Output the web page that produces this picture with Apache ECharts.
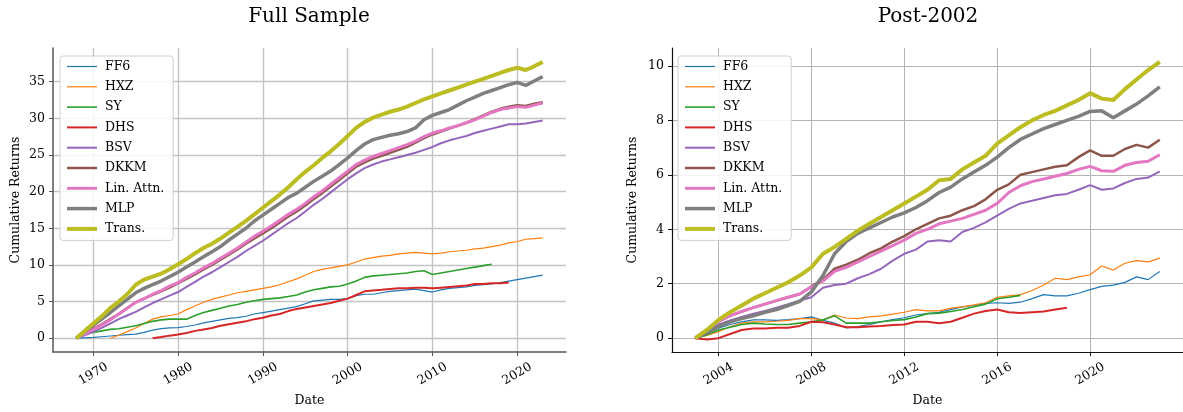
<!DOCTYPE html>
<html><head><meta charset="utf-8">
<script src="https://cdn.jsdelivr.net/npm/echarts@6/dist/echarts.min.js"></script>
<style>html,body{margin:0;padding:0;background:#fff}#c{width:1183px;height:412px}</style>
</head><body><div id="c"></div>
<script>
const seriesNames = ['FF6','HXZ','SY','DHS','BSV','DKKM','Lin. Attn.','MLP','Trans.'];
const seriesColors = ['#1f77b4','#ff7f0e','#2ca02c','#d62728','#9467bd','#8c564b','#e377c2','#7f7f7f','#bcbd22'];
const seriesWidths = [1.2,1.2,1.6,2,2,2.5,3,3.5,4];
const titles = ['Full Sample','Post-2002'];
const xTicksFull = [1970,1980,1990,2000,2010,2020];
const yTicksFull = [0,5,10,15,20,25,30,35];
const xTicksPost = [2004,2008,2012,2016,2020];
const yTicksPost = [0,2,4,6,8,10];

// Full sample: yearly readings 1968..2023
const yearsFull = [1968,1969,1970,1971,1972,1973,1974,1975,1976,1977,
  1978,1979,1980,1981,1982,1983,1984,1985,1986,1987,
  1988,1989,1990,1991,1992,1993,1994,1995,1996,1997,
  1998,1999,2000,2001,2002,2003,2004,2005,2006,2007,
  2008,2009,2010,2011,2012,2013,2014,2015,2016,2017,
  2018,2019,2020,2021,2022,2023];
const ff6Full = [0,0.05,0.1,0.2,0.3,0.4,0.5,0.55,0.8,1.1,
  1.3,1.4,1.45,1.6,1.8,2.1,2.3,2.5,2.7,2.8,
  3.0,3.3,3.5,3.7,3.9,4.1,4.3,4.7,5.1,5.2,
  5.3,5.3,5.4,5.8,6.0,6.0,6.2,6.4,6.5,6.6,
  6.7,6.5,6.3,6.6,6.8,6.9,7.0,7.2,7.3,7.4,
  7.6,7.8,8.0,8.2,8.4,8.6];
const hxzFull = [null,null,null,null,0,0.4,0.9,1.4,2.0,2.6,
  2.9,3.1,3.3,3.9,4.4,4.9,5.3,5.6,5.9,6.2,
  6.4,6.6,6.8,7.0,7.3,7.7,8.1,8.6,9.1,9.4,
  9.6,9.8,10.0,10.4,10.8,11.0,11.2,11.3,11.5,11.6,
  11.7,11.6,11.5,11.6,11.8,11.9,12.0,12.2,12.3,12.5,
  12.7,13.0,13.2,13.5,13.6,13.7];
const syFull = [0,0.5,0.8,1.0,1.2,1.3,1.5,1.7,2.0,2.3,
  2.5,2.6,2.6,2.6,3.1,3.5,3.8,4.1,4.4,4.6,
  4.9,5.1,5.3,5.4,5.5,5.7,5.9,6.3,6.6,6.8,
  7.0,7.1,7.4,7.8,8.3,8.5,8.6,8.7,8.8,8.9,
  9.1,9.2,8.7,8.9,9.1,9.3,9.5,9.7,9.9,10.1];
const dhsFull = [null,null,null,null,null,null,null,null,null,0,
  0.15,0.35,0.5,0.7,1.0,1.2,1.4,1.7,1.9,2.1,
  2.3,2.6,2.8,3.1,3.3,3.7,4.0,4.2,4.4,4.6,
  4.8,5.1,5.4,5.9,6.4,6.5,6.6,6.7,6.8,6.8,
  6.9,6.9,6.8,6.9,7.0,7.1,7.2,7.4,7.4,7.5,
  7.5,7.6];
const bsvFull = [0,0.4,0.9,1.4,2.0,2.6,3.1,3.6,4.2,4.8,
  5.3,5.8,6.3,7.0,7.7,8.4,9.0,9.7,10.4,11.1,
  11.9,12.6,13.3,14.1,14.9,15.7,16.4,17.3,18.2,19.0,
  19.9,20.8,21.7,22.5,23.2,23.7,24.1,24.4,24.7,25.0,
  25.3,25.7,26.1,26.6,27.0,27.3,27.6,28.0,28.3,28.6,
  28.9,29.2,29.2,29.3,29.5,29.7];
const dkkmFull = [0,0.7,1.3,1.9,2.6,3.3,4.1,4.9,5.4,5.9,
  6.4,6.9,7.5,8.1,8.7,9.4,10.0,10.7,11.4,12.1,
  12.9,13.6,14.3,15.0,15.8,16.6,17.3,18.1,19.0,19.8,
  20.7,21.6,22.5,23.4,24.0,24.5,24.9,25.3,25.7,26.1,
  26.7,27.3,27.8,28.2,28.6,29.0,29.4,29.9,30.4,30.9,
  31.3,31.6,31.8,31.7,32.0,32.2];
const linFull = [0,0.6,1.2,1.8,2.5,3.3,4.1,4.9,5.4,6.0,
  6.5,7.1,7.6,8.3,8.9,9.6,10.2,10.9,11.6,12.3,
  13.1,13.9,14.6,15.3,16.1,16.9,17.6,18.4,19.3,20.1,
  21.0,21.9,22.8,23.7,24.3,24.8,25.2,25.6,26.0,26.4,
  26.9,27.5,28.0,28.3,28.7,29.0,29.4,29.8,30.3,30.8,
  31.2,31.4,31.6,31.5,31.8,32.1];
const mlpFull = [0,0.9,1.8,2.6,3.5,4.4,5.3,6.2,6.8,7.3,
  7.8,8.4,9.0,9.7,10.4,11.1,11.8,12.5,13.4,14.2,
  15.0,16.0,16.8,17.6,18.4,19.2,19.8,20.6,21.4,22.1,
  22.8,23.7,24.6,25.6,26.5,27.1,27.4,27.7,27.9,28.2,
  28.7,29.8,30.4,30.8,31.2,31.8,32.4,32.9,33.4,33.8,
  34.2,34.6,34.9,34.5,35.1,35.7];
const transFull = [0,1.0,2.0,3.0,4.1,5.0,6.0,7.3,8.0,8.4,
  8.8,9.4,10.1,10.8,11.6,12.3,12.9,13.6,14.4,15.2,
  16.0,16.9,17.8,18.7,19.6,20.6,21.7,22.7,23.6,24.6,
  25.5,26.5,27.6,28.7,29.5,30.1,30.5,30.9,31.2,31.6,
  32.1,32.6,33.0,33.4,33.8,34.2,34.6,35.0,35.4,35.8,
  36.2,36.6,36.9,36.6,37.1,37.7];

// Post-2002: half-yearly readings 2003..2023
const yearsPost = [2003,2003.5,2004,2004.5,2005,2005.5,2006,2006.5,2007,2007.5,
  2008,2008.5,2009,2009.5,2010,2010.5,2011,2011.5,2012,2012.5,
  2013,2013.5,2014,2014.5,2015,2015.5,2016,2016.5,2017,2017.5,
  2018,2018.5,2019,2019.5,2020,2020.5,2021,2021.5,2022,2022.5,2023];
const ff6Post = [0,0.15,0.37,0.5,0.6,0.67,0.67,0.65,0.68,0.72,
  0.78,0.65,0.55,0.38,0.42,0.5,0.6,0.68,0.75,0.85,
  0.9,0.95,1.05,1.15,1.2,1.28,1.3,1.28,1.32,1.45,
  1.6,1.55,1.55,1.65,1.78,1.9,1.95,2.05,2.25,2.15,2.45];
const hxzPost = [0,0.1,0.24,0.42,0.55,0.6,0.6,0.62,0.65,0.72,
  0.72,0.67,0.85,0.74,0.72,0.78,0.82,0.88,0.95,1.05,
  1.0,1.0,1.1,1.15,1.22,1.3,1.5,1.55,1.6,1.75,
  1.95,2.2,2.15,2.25,2.33,2.65,2.5,2.75,2.85,2.8,2.94];
const syPost = [0,0.12,0.3,0.4,0.5,0.55,0.52,0.5,0.5,0.55,
  0.6,0.67,0.82,0.55,0.55,0.55,0.6,0.65,0.68,0.78,
  0.9,0.92,0.98,1.05,1.15,1.25,1.45,1.5,1.57];
const dhsPost = [0,-0.05,0.0,0.15,0.3,0.35,0.35,0.38,0.38,0.45,
  0.6,0.58,0.5,0.4,0.4,0.43,0.45,0.48,0.5,0.6,
  0.6,0.55,0.6,0.75,0.9,1.0,1.05,0.95,0.92,0.95,
  0.98,1.05,1.12];
const bsvPost = [0,0.25,0.5,0.65,0.78,0.9,1.0,1.12,1.25,1.38,
  1.5,1.85,1.95,2.0,2.2,2.35,2.55,2.85,3.1,3.25,
  3.55,3.6,3.55,3.9,4.05,4.25,4.5,4.75,4.95,5.05,
  5.15,5.25,5.3,5.45,5.62,5.45,5.5,5.7,5.85,5.9,6.13];
const dkkmPost = [0,0.3,0.62,0.82,0.98,1.12,1.25,1.38,1.5,1.62,
  1.9,2.15,2.55,2.7,2.88,3.12,3.3,3.55,3.75,4.0,
  4.2,4.4,4.5,4.7,4.85,5.1,5.45,5.65,6.0,6.1,
  6.2,6.3,6.35,6.65,6.9,6.7,6.7,6.95,7.1,7.0,7.29];
const linPost = [0,0.3,0.62,0.82,0.98,1.12,1.25,1.38,1.5,1.62,
  1.88,2.1,2.45,2.6,2.8,3.0,3.2,3.4,3.6,3.85,
  4.0,4.2,4.3,4.4,4.55,4.7,4.95,5.35,5.6,5.75,
  5.85,5.95,6.05,6.2,6.31,6.15,6.13,6.35,6.45,6.5,6.74];
const mlpPost = [0,0.2,0.43,0.6,0.72,0.82,0.95,1.05,1.2,1.35,
  1.7,2.3,3.1,3.55,3.85,4.05,4.25,4.45,4.6,4.8,
  5.05,5.35,5.55,5.85,6.1,6.35,6.65,7.0,7.3,7.5,
  7.7,7.85,8.0,8.15,8.33,8.35,8.1,8.35,8.6,8.9,9.23];
const transPost = [0,0.3,0.67,0.95,1.2,1.45,1.65,1.85,2.05,2.3,
  2.6,3.1,3.35,3.65,3.95,4.2,4.45,4.7,4.95,5.2,
  5.45,5.8,5.85,6.2,6.45,6.7,7.15,7.45,7.75,8.0,
  8.2,8.35,8.55,8.75,9.0,8.8,8.75,9.15,9.5,9.85,10.15];

const fullValues = [ff6Full,hxzFull,syFull,dhsFull,bsvFull,dkkmFull,linFull,mlpFull,transFull];
const postValues = [ff6Post,hxzPost,syPost,dhsPost,bsvPost,dkkmPost,linPost,mlpPost,transPost];

const FONT = 'DejaVu Serif';
function toPairs(xs, vs) {
  const out = [];
  vs.forEach((v, i) => { if (v !== null && v !== undefined) out.push([xs[i], v]); });
  return out;
}
const series = [];
[[yearsFull, fullValues], [yearsPost, postValues]].forEach(([xs, vals], g) => {
  vals.forEach((vs, i) => {
    series.push({
      type: 'line', name: seriesNames[i], xAxisIndex: g, yAxisIndex: g,
      data: toPairs(xs, vs), showSymbol: false, symbol: 'none', smooth: false,
      lineStyle: { width: seriesWidths[i], color: seriesColors[i] },
      itemStyle: { color: seriesColors[i] }, z: 2 + i * 0.01
    });
  });
});

const axisColors = ['#555', '#111'];
const gridColors = ['#c4c4c4', '#b4b4b4'];
function xAxis(g, min, max, ticks) {
  return {
    type: 'value', gridIndex: g, min: min, max: max,
    name: 'Date', nameLocation: 'middle', nameGap: 41,
    nameTextStyle: { fontFamily: FONT, fontSize: 12.5, color: '#000' },
    axisLine: { show: true, onZero: false, lineStyle: { color: axisColors[g], width: g === 0 ? 1.5 : 1.2 } },
    axisTick: { show: true, length: 4, customValues: ticks, lineStyle: { color: axisColors[g] } },
    axisLabel: { customValues: ticks, rotate: 30, align: 'center', verticalAlign: 'middle', margin: 22,
      fontFamily: FONT, fontSize: 12.5, color: '#000', formatter: v => String(v) },
    splitLine: { show: true, lineStyle: { color: gridColors[g], width: g === 0 ? 1.4 : 1 } }
  };
}
function yAxis(g, min, max, ticks) {
  return {
    type: 'value', gridIndex: g, min: min, max: max,
    name: 'Cumulative Returns', nameLocation: 'middle', nameGap: g === 0 ? 31 : 33,
    nameTextStyle: { fontFamily: FONT, fontSize: 12.5, color: '#000' },
    axisLine: { show: true, onZero: false, lineStyle: { color: axisColors[g], width: g === 0 ? 1.5 : 1.2 } },
    axisTick: { show: true, length: 4, customValues: ticks, lineStyle: { color: axisColors[g] } },
    axisLabel: { customValues: ticks, margin: 8, fontFamily: FONT, fontSize: 12.5, color: '#000',
      formatter: v => String(v) },
    splitLine: { show: true, lineStyle: { color: gridColors[g], width: g === 0 ? 1.4 : 1 } }
  };
}
function legend(left) {
  return {
    orient: 'vertical', left: left, top: 56, itemWidth: 30, itemHeight: 14, itemGap: 7.3,
    padding: [4, 9, 5, 5], borderColor: '#d0d0d0', borderWidth: 1, borderRadius: 3,
    backgroundColor: 'rgba(255,255,255,0.85)',
    textStyle: { fontFamily: FONT, fontSize: 12.5, color: '#000', padding: [0, 0, 0, 3] },
    itemStyle: { color: 'rgba(0,0,0,0)', borderWidth: 0, opacity: 0 },
    data: seriesNames.map((n, i) => ({ name: n, lineStyle: { width: seriesWidths[i] },
      itemStyle: { color: 'rgba(0,0,0,0)', borderWidth: 0, opacity: 0 } })),
    selectedMode: false
  };
}

const chart = echarts.init(document.getElementById('c'), null, { renderer: 'canvas' });
chart.setOption({
  animation: false,
  backgroundColor: '#fff',
  graphic: [
    { type: 'text', x: 309, y: 17, style: { text: titles[0], textAlign: 'center', textVerticalAlign: 'middle', font: '20px "DejaVu Serif"', fill: '#000' } },
    { type: 'text', x: 928, y: 17, style: { text: titles[1], textAlign: 'center', textVerticalAlign: 'middle', font: '20px "DejaVu Serif"', fill: '#000' } }
  ],
  grid: [
    { left: 53, top: 48, width: 513, height: 305 },
    { left: 672, top: 48, width: 513, height: 305 }
  ],
  xAxis: [xAxis(0, 1965.25, 2025.75, xTicksFull), xAxis(1, 2002, 2024, xTicksPost)],
  yAxis: [yAxis(0, -1.885, 39.6, yTicksFull), yAxis(1, -0.51, 10.66, yTicksPost)],
  legend: [legend(60), legend(678)],
  series: series
});
</script>
</body></html>
